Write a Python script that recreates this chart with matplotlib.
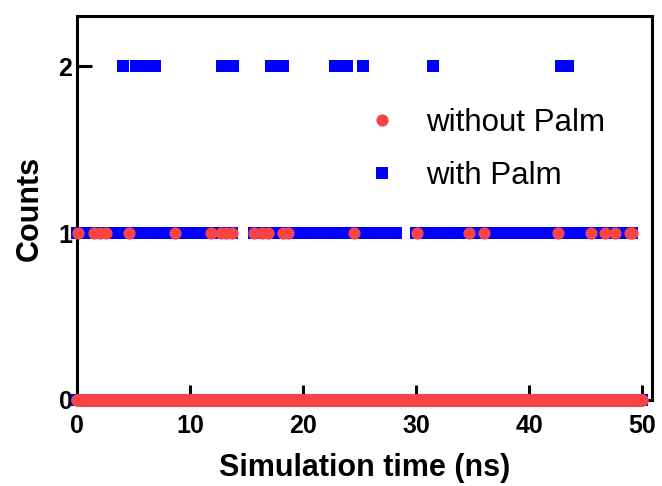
import numpy as np
import matplotlib.pyplot as plt
from matplotlib.lines import Line2D

plt.rcParams['font.family'] = ['Liberation Sans', 'DejaVu Sans']

# trajectory frames (ns), one every 0.1 ns over 50 ns
frame_dt = 0.1
n_frames = 501

# without Palm: frames where the count is 1 (all other frames are 0)
without_one = [0.1, 1.5, 2.0, 2.5, 4.6, 8.6, 11.8, 12.7, 13.2, 13.7,
               15.6, 16.3, 16.9, 18.2, 18.6, 24.5, 30.1, 34.7, 36.0,
               42.5, 45.5, 46.7, 47.6, 48.9, 49.1]

# with Palm: stretches where the count stays at 1, plus frames at 2
with_one_runs = [(0.0, 13.8), (15.6, 28.2), (30.0, 49.1)]
with_two = [4.0, 5.2, 5.8, 6.4, 6.9, 12.8, 13.3, 13.8, 17.1, 17.7, 18.2,
            22.8, 23.9, 25.3, 31.5, 42.8, 43.4]

times = np.round(np.arange(n_frames) * frame_dt, 1)

cnt_without = np.zeros(n_frames)
for t in without_one:
    cnt_without[int(round(t / frame_dt))] = 1

cnt_with = np.zeros(n_frames)
for a, b in with_one_runs:
    cnt_with[(times >= a) & (times <= b)] = 1
for t in with_two:
    cnt_with[int(round(t / frame_dt))] = 2

red = '#f84444'
blue = '#0000ff'
sq_ms = 8.4
ci_ms = 8.8

fig = plt.figure(figsize=(6.62, 4.86), dpi=100)
ax = fig.add_axes([0.1168, 0.177, 0.8682, 0.790])

# each series: continuous band at 0 plus the listed events
ax.plot(times, np.zeros(n_frames), 's', color=blue, ms=sq_ms, mew=0, clip_on=False, zorder=3)
ax.plot(times, cnt_with, 's', color=blue, ms=sq_ms, mew=0, clip_on=False, zorder=3)
ax.plot(times, np.zeros(n_frames), 'o', color=red, ms=ci_ms, mew=0, clip_on=False, zorder=4)
ax.plot(times, cnt_without, 'o', color=red, ms=ci_ms, mew=0, clip_on=False, zorder=4)

ax.set_xlim(0, 50.86)
ax.set_ylim(0, 2.3)
ax.set_xticks([0, 10, 20, 30, 40, 50])
ax.set_yticks([0, 1, 2])

for s in ax.spines.values():
    s.set_linewidth(2.2)
ax.tick_params(direction='in', length=11, width=2.2, labelsize=18)
ax.tick_params(axis='x', pad=10)
for lab in ax.get_xticklabels() + ax.get_yticklabels():
    lab.set_fontweight('bold')

ax.set_xlabel('Simulation time (ns)', fontsize=22, fontweight='bold', labelpad=11)
ax.set_ylabel('Counts', fontsize=22, fontweight='bold', labelpad=10)

handles = [Line2D([], [], ls='none', marker='o', color=red, ms=ci_ms, mew=0),
           Line2D([], [], ls='none', marker='s', color=blue, ms=sq_ms, mew=0)]
ax.legend(handles, ['without Palm', 'with Palm'], loc='upper left',
          bbox_to_anchor=(0.503, 0.761), frameon=False, fontsize=22.5,
          handlelength=1.0, handletextpad=0.9, labelspacing=0.73,
          borderpad=0, borderaxespad=0)

fig.savefig('out.png', dpi=100)
